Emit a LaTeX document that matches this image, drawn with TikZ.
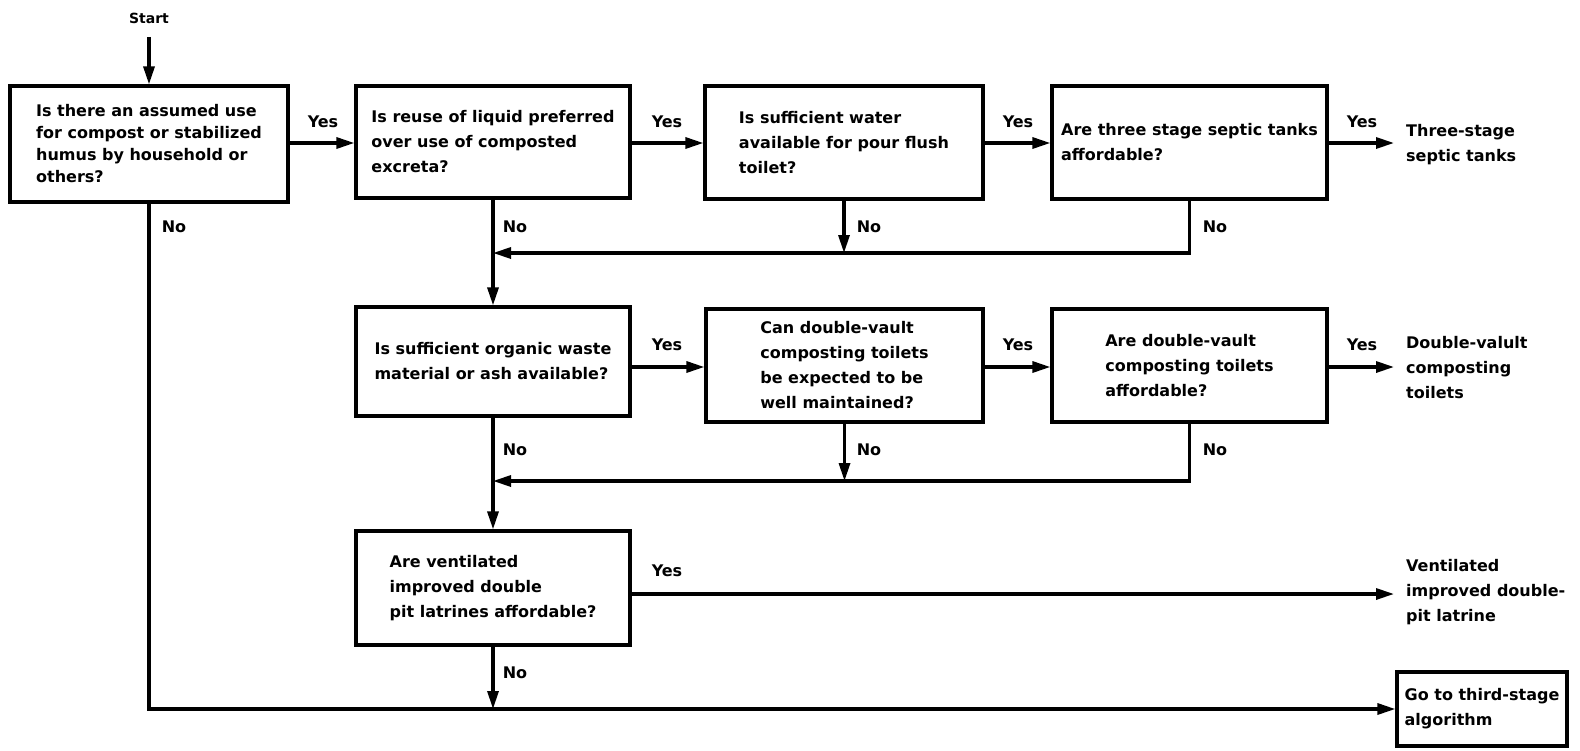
\documentclass[tikz,border=0pt]{standalone}
\usepackage{fontspec}
\setmainfont{DejaVu Sans}
\usetikzlibrary{arrows.meta}
\begin{document}
\begin{tikzpicture}[x=1pt,y=-1pt,
  box/.style={draw, line width=3.2pt, align=left, inner sep=0pt,
    font=\bfseries\fontsize{16}{25}\selectfont},
  term/.style={anchor=west, align=left, inner xsep=12pt, inner ysep=0pt,
    font=\bfseries\fontsize{16}{25}\selectfont},
  lab/.style={font=\bfseries\fontsize{16}{19}\selectfont},
  arr/.style={line width=3.2pt, -{Triangle[length=18pt,width=11pt]}},
  ln/.style={line width=3.2pt}]
\useasboundingbox (0,0) rectangle (1580,750);

% coordinates for rows
\coordinate (r1) at (0,143);
\coordinate (m1) at (0,253);
\coordinate (r2) at (0,367);
\coordinate (m2) at (0,481);
\coordinate (r3) at (0,594);

\node[lab, font=\bfseries\fontsize{14}{16}\selectfont] (start) at (149,18) {Start};

\node[box, minimum width=278, minimum height=116,
      font=\bfseries\fontsize{16}{22}\selectfont] (b1) at (149,144)
  {Is there an assumed use\\for compost or stabilized\\humus by household or\\others?};
\node[box, minimum width=274, minimum height=112] (b2) at (493,142)
  {Is reuse of liquid preferred\\over use of composted\\excreta?};
\node[box, minimum width=278, minimum height=113] (b3) at (844,142.5)
  {Is sufficient water\\available for pour flush\\toilet?};
\node[box, minimum width=275, minimum height=113] (b4) at (1189.5,142.5)
  {Are three stage septic tanks\\affordable?};

\node[box, minimum width=274, minimum height=109] (b5) at (493,361.5)
  {Is sufficient organic waste\\material or ash available?};
\node[box, minimum width=277, minimum height=113] (b6) at (844.5,365.5)
  {Can double-vault\\composting toilets\\be expected to be\\well maintained?};
\node[box, minimum width=275, minimum height=113] (b7) at (1189.5,365.5)
  {Are double-vault\\composting toilets\\affordable?};

\node[box, minimum width=274, minimum height=114] (b8) at (493,588)
  {Are ventilated\\improved double\\pit latrines affordable?};

\node[box, minimum width=170, minimum height=74] (b9) at (1482,709)
  {Go to third-stage\\algorithm};

\node[term] (t1) at (1394,145) {Three-stage\\septic tanks};
\node[term] (t2) at (1394,368) {Double-valult\\composting\\toilets};
\node[term] (t3) at (1394,592) {Ventilated\\improved double-\\pit latrine};

% start arrow
\draw[arr] ([yshift=-10pt]start.south) -- (b1.north);

% row 1 yes arrows
\draw[arr] (b1.east |- r1) -- (b2.west |- r1);
\draw[arr] (b2.east |- r1) -- (b3.west |- r1);
\draw[arr] (b3.east |- r1) -- (b4.west |- r1);
\draw[arr] (b4.east |- r1) -- (t1.west |- r1);

% row 1 no arrows
\draw[arr] (b2.south) -- (b5.north);
\draw[arr] (b3.south) -- (b3.south |- m1);
\draw[arr] (b4.south) |- (b2.south |- m1);

% row 2 yes arrows
\draw[arr] (b5.east |- r2) -- (b6.west |- r2);
\draw[arr] (b6.east |- r2) -- (b7.west |- r2);
\draw[arr] (b7.east |- r2) -- (t2.west |- r2);

% row 2 no arrows
\draw[arr] (b5.south) -- (b8.north);
\draw[arr] (b6.south) -- (b6.south |- m2);
\draw[arr] (b7.south) |- (b5.south |- m2);

% row 3
\draw[arr] (b8.east |- r3) -- (t3.west |- r3);
\draw[arr] (b8.south) -- (b8.south |- b9.west);
\draw[arr] (b1.south) |- (b9.west);

% labels
\node[lab] (y1) at (323,122) {Yes};
\node[lab] (y2) at (667,122) {Yes};
\node[lab] (y3) at (1018,122) {Yes};
\node[lab] (y4) at (1362,122) {Yes};
\node[lab] (y5) at (667,345) {Yes};
\node[lab] (y6) at (1018,345) {Yes};
\node[lab] (y7) at (1362,345) {Yes};
\node[lab] (y8) at (667,571) {Yes};

\node[lab] (n1) at (174,227) {No};
\node[lab] (n2) at (515,227) {No};
\node[lab] (n3) at (869,227) {No};
\node[lab] (n4) at (1215,227) {No};
\node[lab] (n5) at (515,450) {No};
\node[lab] (n6) at (869,450) {No};
\node[lab] (n7) at (1215,450) {No};
\node[lab] (n8) at (515,673) {No};
\end{tikzpicture}
\end{document}
